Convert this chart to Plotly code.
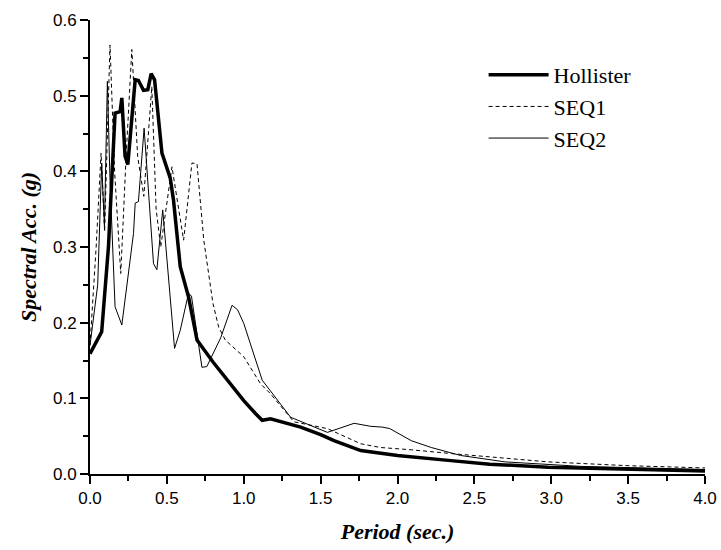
import plotly.graph_objects as go

# Hollister record
hol_x = [0, 0.065, 0.076, 0.12, 0.163, 0.196, 0.207, 0.228, 0.246, 0.294, 0.315, 0.348, 0.376,
         0.398, 0.42, 0.468, 0.522, 0.543, 0.587, 0.641, 0.696, 0.8, 0.9, 1.0, 1.076, 1.12, 1.174,
         1.25, 1.37, 1.5, 1.587, 1.761, 2.0, 2.33, 2.6, 2.98, 3.5, 4.0]
hol_y = [0.159, 0.185, 0.188, 0.30, 0.477, 0.479, 0.497, 0.42, 0.409, 0.521, 0.52, 0.507, 0.508,
         0.529, 0.521, 0.424, 0.391, 0.362, 0.274, 0.234, 0.177, 0.148, 0.122, 0.097, 0.08, 0.071, 0.073,
         0.069, 0.062, 0.052, 0.044, 0.031, 0.0245, 0.018, 0.013, 0.009, 0.006, 0.004]

# SEQ1
s1_x = [0, 0.04, 0.072, 0.095, 0.13, 0.16, 0.2, 0.235, 0.272, 0.31, 0.35, 0.402, 0.43, 0.46,
        0.533, 0.609, 0.663, 0.696, 0.74, 0.80, 0.837, 0.88, 1.0, 1.11, 1.174, 1.326, 1.544,
        1.76, 1.89, 2.09, 2.35, 2.98, 3.5, 4.0]
s1_y = [0.17, 0.3, 0.424, 0.32, 0.567, 0.40, 0.265, 0.42, 0.561, 0.42, 0.367, 0.512, 0.35, 0.30,
        0.406, 0.309, 0.411, 0.41, 0.309, 0.225, 0.194, 0.177, 0.155, 0.119, 0.106, 0.069, 0.06,
        0.04, 0.035, 0.032, 0.027, 0.016, 0.011, 0.008]

# SEQ2
s2_x = [0, 0.05, 0.076, 0.094, 0.113, 0.13, 0.163, 0.207, 0.283, 0.294, 0.315, 0.352, 0.413,
        0.435, 0.473, 0.55, 0.587, 0.641, 0.66, 0.728, 0.76, 0.85, 0.924, 0.96, 1.0, 1.12,
        1.305, 1.544, 1.718, 1.826, 1.9, 1.95, 2.09, 2.22, 2.41, 2.7, 3.2, 4.0]
s2_y = [0.17, 0.25, 0.411, 0.327, 0.519, 0.389, 0.221, 0.197, 0.318, 0.358, 0.36, 0.457, 0.278,
        0.27, 0.349, 0.166, 0.19, 0.239, 0.235, 0.141, 0.142, 0.18, 0.223, 0.217, 0.199, 0.124,
        0.075, 0.055, 0.067, 0.063, 0.062, 0.06, 0.044, 0.035, 0.0245, 0.016, 0.01, 0.006]

fig = go.Figure()
fig.add_trace(go.Scatter(x=hol_x, y=hol_y, mode="lines", name="Hollister",
                         line=dict(color="black", width=3.5)))
fig.add_trace(go.Scatter(x=s1_x, y=s1_y, mode="lines", name="SEQ1",
                         line=dict(color="black", width=1, dash="4px,3px")))
fig.add_trace(go.Scatter(x=s2_x, y=s2_y, mode="lines", name="SEQ2",
                         line=dict(color="black", width=1)))

axis_common = dict(
    showline=True, linecolor="black", linewidth=2, ticks="outside", ticklen=8, tickwidth=2,
    tickcolor="black", showgrid=False, zeroline=False, mirror=False,
    tickfont=dict(family="Liberation Sans, Arial", size=17, color="black"),
)
fig.update_xaxes(range=[0, 4], dtick=0.5, tickformat=".1f",
                 minor=dict(ticks="outside", ticklen=5, tickwidth=2, tickcolor="black", dtick=0.25),
                 title=dict(text="<b><i>Period (sec.)</i></b>",
                            font=dict(family="Liberation Serif, Times New Roman", size=22, color="black"),
                            standoff=16),
                 **axis_common)
fig.update_yaxes(range=[0, 0.6], dtick=0.1, tickformat=".1f",
                 minor=dict(ticks="outside", ticklen=5, tickwidth=2, tickcolor="black", dtick=0.05),
                 title=dict(text="<b><i>Spectral Acc. (g)</i></b>",
                            font=dict(family="Liberation Serif, Times New Roman", size=22, color="black"),
                            standoff=10),
                 **axis_common)

fig.update_layout(
    width=721, height=550,
    margin=dict(l=90, r=16, t=20, b=76, autoexpand=False),
    plot_bgcolor="white", paper_bgcolor="white",
    showlegend=True,
    legend=dict(x=0.64, y=0.925, xanchor="left", yanchor="top", bgcolor="rgba(0,0,0,0)",
                font=dict(family="Liberation Serif, Times New Roman", size=22, color="black"),
                itemwidth=60, tracegroupgap=0),
)

fig.write_html("out.html")
